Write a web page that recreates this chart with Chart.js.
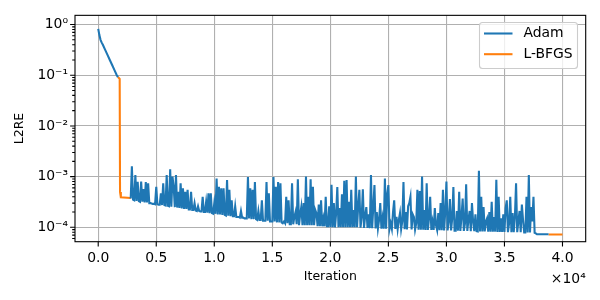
<!DOCTYPE html>
<html>
<head>
<meta charset="utf-8">
<script src="https://cdn.jsdelivr.net/npm/chart.js@4/dist/chart.umd.min.js"></script>
<style>
  html, body { margin: 0; padding: 0; background: #fff; }
</style>
</head>
<body>
<canvas id="chart" width="600" height="300"></canvas>
<script>
// Adam warm-up phase
const adamStartIter = [0, 100, 200, 300, 400, 600, 800, 1000, 1200, 1400, 1600, 1700];
const adamStartL2 = [0.82, 0.62, 0.5, 0.44, 0.4, 0.317, 0.252, 0.2, 0.159, 0.126, 0.1, 0.092];

// first L-BFGS phase
const lbfgsIter1 = [1700, 1850, 1880, 1950, 2800];
const lbfgsL2a = [0.092, 0.085, 0.0005, 0.00039, 0.00038];

// noisy Adam phase, one value every 100 iterations from 2800, in units of 1e-4
const adamNoiseFirst = 2800;
const adamNoiseStep = 100;
const adamNoiseE4 = [
  3.7, 16, 3.5, 3.4, 10.7, 3.3, 7.9, 3.3, 3.2, 8.0,
  3.2, 5.7, 3.1, 7.8, 3.1, 7.4, 3.0, 3.0, 2.95, 2.9,
  2.9, 2.85, 6.3, 2.85, 2.8, 2.8, 4.7, 2.75, 7.4, 2.75,
  2.7, 10.7, 2.65, 2.6, 14, 2.55, 10, 6.3, 2.5, 10.7,
  2.45, 5.0, 2.4, 7.4, 2.35, 5.9, 2.3, 5.0, 2.3, 5.5,
  2.25, 2.25, 5.0, 2.2, 2.2, 3.0, 2.15, 2.1, 2.6, 2.1,
  2.05, 2.05, 4.0, 2.0, 2.0, 3.2, 1.95, 4.7, 1.9, 4.7,
  1.9, 1.85, 3.0, 1.85, 9.2, 1.8, 6.3, 1.8, 5.9, 1.75,
  5.9, 1.75, 1.7, 8.6, 1.7, 5.5, 1.65, 3.4, 1.65, 1.65,
  2.6, 1.6, 1.6, 1.6, 1.55, 2.1, 1.55, 1.55, 1.5, 1.5,
  1.5, 9.8, 1.5, 5.9, 1.45, 5.5, 1.45, 7.8, 1.45, 1.4,
  2.1, 1.4, 1.4, 3.4, 1.35, 1.35, 1.35, 7.8, 1.35, 4.7,
  1.3, 1.3, 1.3, 9.8, 1.3, 6.3, 1.25, 7.8, 1.25, 7.4,
  1.25, 1.2, 1.3, 1.2, 4.0, 1.2, 3.4, 1.15, 1.15, 7.4,
  1.15, 1.6, 2.0, 1.15, 8.9, 1.1, 1.8, 2.55, 1.1, 3.0,
  1.1, 10, 1.1, 4.0, 1.1, 8.9, 1.1, 6.3, 1.1, 2.2,
  1.9, 1.05, 2.8, 1.05, 3.4, 1.05, 1.5, 1.05, 4.0, 1.05,
  1.05, 2.6, 1.0, 6.9, 1.0, 3.0, 1.0, 1.9, 6.2, 1.0,
  2.4, 1.0, 4.5, 1.0, 8.3, 1.0, 8.6, 1.0, 3.2, 1.0,
  5.5, 1.0, 2.2, 1.0, 10, 1.0, 2.6, 5.5, 0.98, 1.6,
  5.6, 0.97, 1.7, 2.5, 0.97, 1.8, 0.96, 10.7, 0.96, 2.5,
  6.8, 0.95, 2.0, 0.95, 1.4, 3.0, 0.94, 1.5, 0.94, 9.2,
  0.94, 4.5, 6.8, 0.93, 1.2, 0.93, 2.0, 3.4, 0.93, 1.6,
  0.92, 1.4, 1.9, 0.92, 1.3, 7.8, 0.92, 2.0, 0.91, 2.6,
  3.0, 4.0, 0.91, 1.8, 1.6, 0.9, 1.2, 5.5, 0.9, 5.2,
  0.9, 10, 0.9, 2.2, 0.89, 7.4, 0.89, 1.5, 4.0, 0.89,
  1.3, 0.89, 2.4, 1.1, 0.88, 1.9, 0.88, 3.0, 0.88, 5.5,
  0.87, 2.0, 8.0, 0.87, 1.3, 3.6, 0.87, 1.5, 6.2, 0.86,
  0.86, 2.1, 0.86, 5.0, 0.85, 1.6, 3.7, 0.85, 1.2, 7.1,
  0.85, 1.4, 2.1, 0.84, 3.0, 1.3, 0.84, 1.8, 0.84, 0.83,
  13, 0.83, 4.0, 0.83, 2.5, 0.83, 1.3, 1.5, 0.82, 2.0,
  0.82, 3.2, 0.82, 1.6, 0.82, 8.7, 0.81, 4.0, 0.81, 1.5,
  0.81, 1.8, 0.81, 2.4, 3.4, 0.8, 1.2, 4.0, 0.8, 1.9,
  0.8, 1.6, 7.4, 0.8, 1.3, 2.1, 0.8, 2.8, 1.4, 0.79,
  0.79, 4.0, 0.79, 10.7, 0.79, 2.5, 1.3, 4.0, 0.78, 0.76
];

// Adam flat tail and final L-BFGS phase
const adamTailIter = [37800, 38800];
const adamTailL2 = [7.3e-5, 7.3e-5];
const lbfgsIter2 = [38800, 40000];
const lbfgsL2b = [7.2e-5, 7.2e-5];

const xTicks = [0, 5000, 10000, 15000, 20000, 25000, 30000, 35000, 40000];
const xTickLabels = ["0.0", "0.5", "1.0", "1.5", "2.0", "2.5", "3.0", "3.5", "4.0"];
const yMajor = [1e-4, 1e-3, 1e-2, 1e-1, 1];
const yTickLabels = ["10\u207B\u2074", "10\u207B\u00B3", "10\u207B\u00B2", "10\u207B\u00B9", "10\u2070"];

const xTitle = "Iteration";
const yTitle = "L2RE";
const offsetText = "\u00D710\u2074";

const blue = "#1f77b4";
const orange = "#ff7f0e";
const fontFamily = "'DejaVu Sans', sans-serif";
const lineW = 2.08;   // 1.5pt at 100 dpi
const thinW = 1.1;    // 0.8pt

// build point lists
const adamPoints = [];
adamStartIter.forEach((it, i) => adamPoints.push({ x: it, y: adamStartL2[i] }));
adamPoints.push({ x: 2000, y: null });
adamNoiseE4.forEach((v, i) => adamPoints.push({ x: adamNoiseFirst + i * adamNoiseStep, y: v * 1e-4 }));
adamTailIter.forEach((it, i) => adamPoints.push({ x: it, y: adamTailL2[i] }));

const lbfgsPoints = [];
lbfgsIter1.forEach((it, i) => lbfgsPoints.push({ x: it, y: lbfgsL2a[i] }));
lbfgsPoints.push({ x: 20000, y: null });
lbfgsIter2.forEach((it, i) => lbfgsPoints.push({ x: it, y: lbfgsL2b[i] }));

// log ticks: majors plus 2..9 minors inside the range
const yMin = 5.2e-5;
const yMax = 1.52;
const yAllTicks = [];
yMajor.forEach(m => {
    if (m === 1e-4) {
        for (let k = 6; k <= 9; k++) {
            const v = m / 10 * k;
            if (v >= yMin) yAllTicks.push(v);
        }
    }
    for (let k = 1; k <= 9; k++) {
        const v = k === 1 ? m : m * k;
        if (v >= yMin && v <= yMax) yAllTicks.push(v);
    }
});

const mplDecor = {
    id: "mplDecor",
    afterDraw(chart) {
        const { ctx, chartArea: a, scales } = chart;
        const x = scales.x;
        const y = scales.y;

        ctx.save();

        // tick marks
        ctx.strokeStyle = "#000";
        ctx.lineWidth = thinW;
        ctx.beginPath();
        xTicks.forEach(v => {
            const px = x.getPixelForValue(v);
            ctx.moveTo(px, a.bottom);
            ctx.lineTo(px, a.bottom + 4.9);
        });
        yAllTicks.forEach(v => {
            const py = y.getPixelForValue(v);
            const len = yMajor.includes(v) ? 4.9 : 2.8;
            ctx.moveTo(a.left - len, py);
            ctx.lineTo(a.left, py);
        });
        ctx.stroke();

        // frame
        ctx.strokeRect(a.left, a.top, a.right - a.left, a.bottom - a.top);

        // axis titles
        ctx.fillStyle = "#000";
        ctx.font = "12.5px " + fontFamily;
        ctx.textAlign = "center";
        ctx.textBaseline = "middle";
        ctx.fillText(xTitle, (a.left + a.right) / 2, 276.5);
        ctx.save();
        ctx.translate(20, (a.top + a.bottom) / 2);
        ctx.rotate(-Math.PI / 2);
        ctx.fillText(yTitle, 0, 0);
        ctx.restore();

        // offset text
        ctx.font = "13.9px " + fontFamily;
        ctx.textAlign = "right";
        ctx.fillText(offsetText, a.right, 279);

        // legend
        const bx = 479.5, by = 22.5, bw = 98, bh = 46;
        ctx.beginPath();
        ctx.roundRect(bx, by, bw, bh, 3);
        ctx.fillStyle = "rgba(255,255,255,0.8)";
        ctx.fill();
        ctx.strokeStyle = "#cccccc";
        ctx.lineWidth = thinW;
        ctx.stroke();

        chart.data.datasets.forEach((ds, i) => {
            const ly = 33.5 + i * 20.7;
            ctx.strokeStyle = ds.borderColor;
            ctx.lineWidth = lineW;
            ctx.beginPath();
            ctx.moveTo(484, ly);
            ctx.lineTo(512.5, ly);
            ctx.stroke();
            ctx.fillStyle = "#000";
            ctx.textAlign = "left";
            ctx.textBaseline = "middle";
            ctx.fillText(ds.label, 523.5, ly);
        });

        ctx.restore();
    }
};

const ctx = document.getElementById("chart").getContext("2d");

const chart = new Chart(ctx, {
    type: "line",
    data: {
        datasets: [
            {
                label: "Adam",
                data: adamPoints,
                borderColor: blue,
                borderWidth: lineW,
                pointRadius: 0,
                tension: 0,
                spanGaps: false
            },
            {
                label: "L-BFGS",
                data: lbfgsPoints,
                borderColor: orange,
                borderWidth: lineW,
                pointRadius: 0,
                tension: 0,
                spanGaps: false
            }
        ]
    },
    options: {
        responsive: false,
        animation: false,
        layout: {
            padding: { left: 0, right: 14.3, top: 15, bottom: 0 }
        },
        scales: {
            x: {
                type: "linear",
                min: -2000,
                max: 42000,
                afterBuildTicks: scale => {
                    scale.ticks = xTicks.map(v => ({ value: v }));
                },
                afterFit: scale => {
                    scale.height = 58.3;
                },
                border: { display: false },
                grid: {
                    color: "#b0b0b0",
                    lineWidth: thinW,
                    drawTicks: false
                },
                ticks: {
                    autoSkip: false,
                    maxRotation: 0,
                    padding: 8,
                    color: "#000",
                    font: { family: fontFamily, size: 13.9 },
                    callback: value => xTickLabels[xTicks.indexOf(value)]
                }
            },
            y: {
                type: "logarithmic",
                min: yMin,
                max: yMax,
                afterBuildTicks: scale => {
                    scale.ticks = yAllTicks.map(v => ({ value: v }));
                },
                afterFit: scale => {
                    scale.width = 75;
                },
                border: { display: false },
                grid: {
                    color: c => (c.tick && yMajor.includes(c.tick.value)) ? "#b0b0b0" : "rgba(0,0,0,0)",
                    lineWidth: thinW,
                    drawTicks: false
                },
                ticks: {
                    autoSkip: false,
                    padding: 7,
                    color: "#000",
                    font: { family: fontFamily, size: 13.9 },
                    callback: value => {
                        const i = yMajor.indexOf(value);
                        return i >= 0 ? yTickLabels[i] : "";
                    }
                }
            }
        },
        plugins: {
            legend: { display: false },
            tooltip: { enabled: false }
        }
    },
    plugins: [mplDecor]
});
</script>
</body>
</html>
